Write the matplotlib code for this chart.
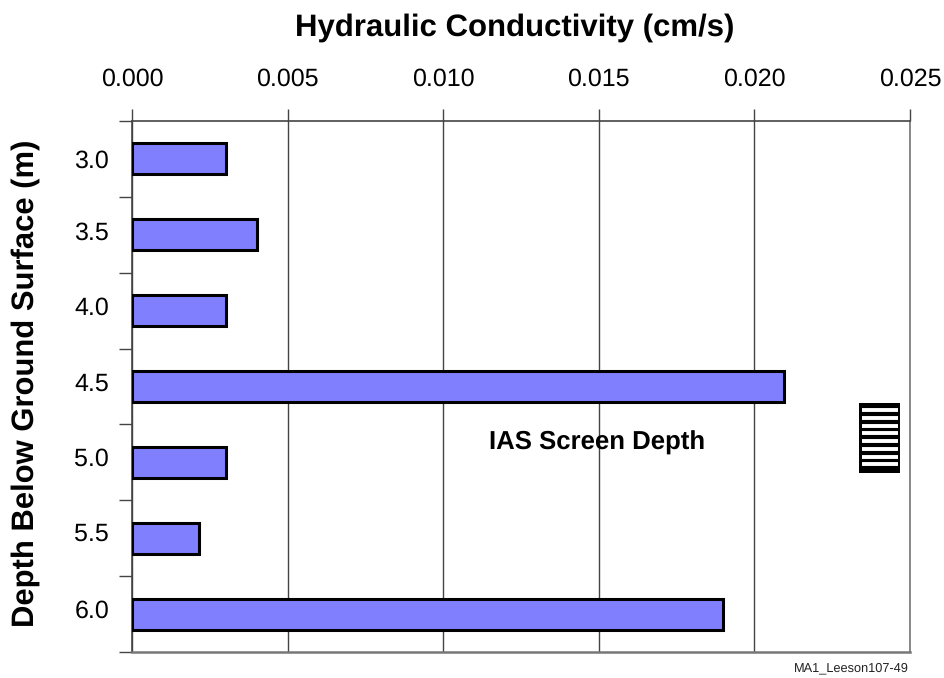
import matplotlib
matplotlib.use("Agg")
import matplotlib.pyplot as plt
from matplotlib.patches import Rectangle

depth_labels = ["3.0", "3.5", "4.0", "4.5", "5.0", "5.5", "6.0"]
conductivity = [0.00303, 0.00403, 0.00303, 0.02095, 0.00303, 0.00215, 0.0190]
x_ticks = [0.000, 0.005, 0.010, 0.015, 0.020, 0.025]
screen_stripes = [410, 418.2, 426, 433.4, 441, 449, 456.7, 464.3]

plt.rcParams['font.family'] = ['Liberation Sans', 'DejaVu Sans']
plt.rcParams['text.hinting'] = 'no_hinting'
W, H = 945, 678
fig = plt.figure(figsize=(W/100, H/100), dpi=100)
L, R, T, B = 132, 910, 121, 652
ax = fig.add_axes([L/W, 1-B/H, (R-L)/W, (B-T)/H])
n = len(depth_labels)
ax.set_xlim(0, 0.025)
ax.set_ylim(n, 0)
pos = [i + 0.5 for i in range(n)]
ax.barh(pos, conductivity, height=0.41, color="#8080ff", edgecolor="black", linewidth=2.2, zorder=3)
ax.xaxis.tick_top()
ax.set_xticks(x_ticks)
ax.set_xticklabels([f"{v:.3f}" for v in x_ticks], fontsize=18)
ax.set_yticks(range(n+1))
ax.set_yticklabels([])
# the labels in the reference sit unevenly against the bars
label_rows_px = [158.5, 231, 306, 382, 457, 532, 609]
px_per_unit = (B - T) / n
ax.set_yticks([(y - T) / px_per_unit for y in label_rows_px], minor=True)
ax.set_yticklabels(depth_labels, minor=True, fontsize=18)
ax.tick_params(axis='y', which='minor', length=0, pad=16.5)
ax.tick_params(axis='y', which='major', length=9.5, width=1, direction='out', color="#444444")
ax.tick_params(axis='x', length=8.5, width=1, direction='out', pad=13, color="#444444")
ax.grid(axis='x', color="#444444", linewidth=1, zorder=1)
for s in ['left', 'right', 'bottom', 'top']:
    ax.spines[s].set_color("#444444")
    ax.spines[s].set_linewidth(1.2)
ax.spines['bottom'].set_linewidth(1.8)
ax.spines['bottom'].set_color("#777777")
ax.spines['right'].set_color("#777777")

fig.text(514.5/W, 1-28/H, "Hydraulic Conductivity (cm/s)", ha='center', va='center', fontsize=22.4, fontweight='bold')
fig.text(26/W, 1-383.5/H, "Depth Below Ground Surface (m)", rotation=90, ha='center', va='center', fontsize=22.3, fontweight='bold')
fig.text(597.5/W, 1-443/H, "IAS Screen Depth", ha='center', va='center', fontsize=18.5, fontweight='bold')
fig.text(851/W, 1-668/H, "MA1_Leeson107-49", ha='center', va='center', fontsize=9.2, color="#222222")

sx0, sx1, sy0, sy1 = 859, 900, 403, 473
fig.add_artist(Rectangle((sx0/W, 1-sy1/H), (sx1-sx0)/W, (sy1-sy0)/H, transform=fig.transFigure,
                         facecolor="black", edgecolor="none"))
for y in screen_stripes:
    fig.add_artist(plt.Line2D([862/W, 898/W], [1-y/H, 1-y/H], transform=fig.transFigure,
                              color="white", linewidth=2.8, solid_capstyle='butt'))

fig.savefig("out.png", dpi=100)
